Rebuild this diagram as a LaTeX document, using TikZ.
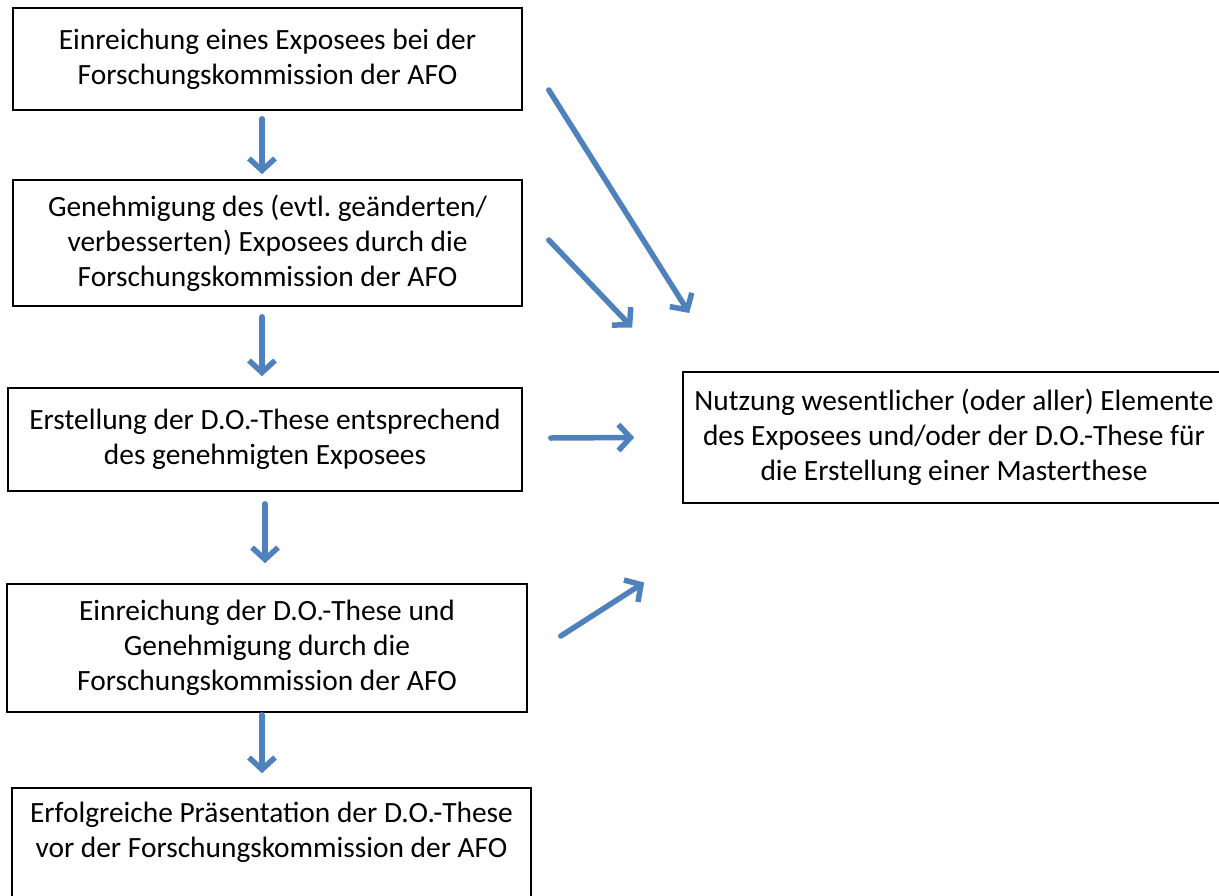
\documentclass[tikz,border=0pt]{standalone}
\usepackage{fontspec}
\setmainfont{Carlito}
\usetikzlibrary{arrows.meta,calc}
\definecolor{arrowblue}{HTML}{4F81BD}
\frenchspacing
\begin{document}
\begin{tikzpicture}[x=1pt,y=-1pt,
  box/.style={draw=black,line width=1.6pt,align=center,inner sep=0pt,
    font=\fontsize{29.4}{35}\selectfont},
  flow/.style={draw=arrowblue,line width=5.5pt,line cap=round,
    -{Straight Barb[length=12pt,width=26pt]}}]
\useasboundingbox (0,0) rectangle (1219,895);
\node[box,minimum width=509pt,minimum height=102pt] (b1) at (267.5,59)
  {Einreichung eines Exposees bei der\\Forschungskommission der AFO};
\node[box,minimum width=509pt,minimum height=126pt] (b2) at (267.5,243)
  {Genehmigung des (evtl. geänderten/\\verbesserten) Exposees durch die\\Forschungskommission der AFO};
\node[box,minimum width=514pt,minimum height=103pt] (b3) at (265,439.5)
  {Erstellung der D.O.-These entsprechend\\des genehmigten Exposees};
\node[box,minimum width=520pt,minimum height=128pt] (b4) at (267,648)
  {Einreichung der D.O.-These und\\Genehmigung durch die\\Forschungskommission der AFO};
\node[box,minimum width=519pt,minimum height=130pt] (b5) at (271.5,853)
  {Erfolgreiche Präsentation der D.O.-These\\vor der Forschungskommission der AFO\\\strut};
\node[box,minimum width=542pt,minimum height=131pt] (b6) at (954,437.5)
  {Nutzung wesentlicher (oder aller) Elemente\\des Exposees und/oder der D.O.-These für\\die Erstellung einer Masterthese};

% vertical flow arrows
\draw[flow] ($(b1.south)+(-5.5,8)$) -- ($(b2.north)+(-5.5,-5)$);
\draw[flow] ($(b2.south)+(-5.5,10)$) -- ($(b3.north)+(-3,-11)$);
\draw[flow] ($(b3.south)+(0,12)$) -- ($(b4.north)+(-2,-20)$);
\draw[flow] ($(b4.south)+(-5,2)$) -- ($(b5.north)+(-9.5,-14)$);

% free ends towards the right box
\coordinate (s1) at ($(b1.east)+(26,31)$);
\coordinate (t1) at ($(b6.west)+(7,-124.5)$);
\coordinate (s2) at ($(b2.east)+(26,-3)$);
\coordinate (t2) at ($(b6.west)+(-50,-110)$);
\coordinate (s3) at ($(b3.east)+(28,-1.5)$);
\coordinate (t3) at ($(b6.west)+(-48,0)$);
\coordinate (s4) at ($(b4.east)+(33,-12)$);
\coordinate (t4) at ($(b6.west)+(-38,145)$);
\draw[flow] (s1) -- (t1);
\draw[flow] (s2) -- (t2);
\draw[flow] (s3) -- (t3);
\draw[flow] (s4) -- (t4);
\end{tikzpicture}
\end{document}
